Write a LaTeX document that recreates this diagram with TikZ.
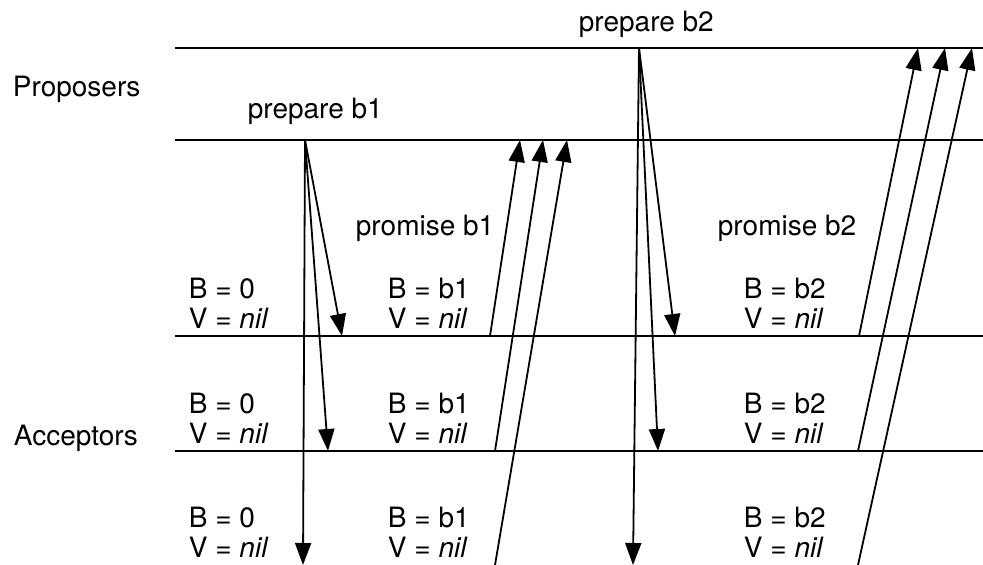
\documentclass[tikz,border=0pt]{standalone}
\usepackage{fontspec}
\setmainfont{TeX Gyre Heros}
\usetikzlibrary{arrows.meta}
\begin{document}
\begin{tikzpicture}[x=1pt, y=-1pt, line width=1.8pt, every node/.style={inner sep=0pt, anchor=base west, align=left, font=\fontsize{28}{30}\selectfont}, msg/.style={-{Triangle[length=22pt, width=16pt]}}]
\useasboundingbox (0,0) rectangle (983,565);
% time lines
\draw (175,48) -- (983,48);
\draw (175,140) -- (983,140);
\draw (175,336) -- (983,336);
\draw (175,451) -- (983,451);
% roles and messages
\node (prop) at (12,96) {Proposers};
\node (acc) at (13,445) {Acceptors};
\node (prep1) at (247,118) {prepare b1};
\node (prep2) at (578,31) {prepare b2};
\node (prom1) at (355,235) {promise b1};
\node (prom2) at (717,235) {promise b2};
% acceptor states (base = last line)
\node (s11) at (188,328) {B = 0\\V = \textit{nil}};
\node (s21) at (188,443) {B = 0\\V = \textit{nil}};
\node (s31) at (188,557) {B = 0\\V = \textit{nil}};
\node (s12) at (387,328) {B = b1\\V = \textit{nil}};
\node (s22) at (387,443) {B = b1\\V = \textit{nil}};
\node (s32) at (387,557) {B = b1\\V = \textit{nil}};
\node (s13) at (743,328) {B = b2\\V = \textit{nil}};
\node (s23) at (743,443) {B = b2\\V = \textit{nil}};
\node (s33) at (743,557) {B = b2\\V = \textit{nil}};
% message ends
\coordinate (p1) at (305,140);
\coordinate (p1a) at (342,336);
\coordinate (p1b) at (328,451);
\coordinate (p1c) at (303,565);
\coordinate (p2) at (639,48);
\coordinate (p2a) at (675,336);
\coordinate (p2b) at (658,451);
\coordinate (p2c) at (633,565);
\coordinate (r1a) at (490,336);
\coordinate (r1b) at (495,451);
\coordinate (r1c) at (495,565);
\coordinate (q1a) at (520,140);
\coordinate (q1b) at (543,140);
\coordinate (q1c) at (567,140);
\coordinate (r2a) at (859,336);
\coordinate (r2b) at (858,451);
\coordinate (r2c) at (858,565);
\coordinate (q2a) at (918,48);
\coordinate (q2b) at (945,48);
\coordinate (q2c) at (972,48);
\draw[msg] (p1) -- (p1a);
\draw[msg] (p1) -- (p1b);
\draw[msg] (p1) -- (p1c);
\draw[msg] (p2) -- (p2a);
\draw[msg] (p2) -- (p2b);
\draw[msg] (p2) -- (p2c);
\draw[msg] (r1a) -- (q1a);
\draw[msg] (r1b) -- (q1b);
\draw[msg] (r1c) -- (q1c);
\draw[msg] (r2a) -- (q2a);
\draw[msg] (r2b) -- (q2b);
\draw[msg] (r2c) -- (q2c);
\end{tikzpicture}
\end{document}
